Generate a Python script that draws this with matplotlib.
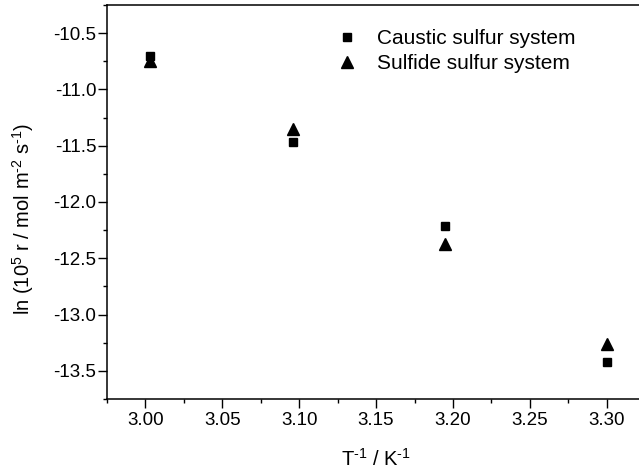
import matplotlib
matplotlib.use("Agg")
import matplotlib.pyplot as plt
from matplotlib.ticker import MultipleLocator, FormatStrFormatter

plt.rcParams['font.family'] = ['Liberation Sans', 'DejaVu Sans']
plt.rcParams['mathtext.fontset'] = 'custom'
plt.rcParams['mathtext.rm'] = 'Liberation Sans'
plt.rcParams['mathtext.it'] = 'Liberation Sans:italic'
plt.rcParams['axes.unicode_minus'] = False

inv_T = [3.0028, 3.0958, 3.195, 3.3005]
caustic = [-10.70, -11.47, -12.21, -13.42]
sulfide = [-10.745, -11.35, -12.37, -13.26]
labels = ["Caustic sulfur system", "Sulfide sulfur system"]

fig = plt.figure(figsize=(6.39, 4.70), dpi=100)
ax = fig.add_axes([107/639, 71/470, 1 - 107/639, (399-5)/470])

ax.plot(inv_T, caustic, ls='none', marker='s', ms=6.2, color='black', label=labels[0])
ax.plot(inv_T, sulfide, ls='none', marker='^', ms=8, color='black', label=labels[1])

ax.set_xlim(2.975, 3.321)
ax.set_ylim(-13.75, -10.25)
ax.xaxis.set_major_locator(MultipleLocator(0.05))
ax.xaxis.set_minor_locator(MultipleLocator(0.025))
ax.yaxis.set_major_locator(MultipleLocator(0.5))
ax.yaxis.set_minor_locator(MultipleLocator(0.25))
ax.xaxis.set_major_formatter(FormatStrFormatter('%.2f'))
ax.yaxis.set_major_formatter(FormatStrFormatter('%.1f'))

ax.spines['right'].set_visible(False)
for s in ['left', 'bottom', 'top']:
    ax.spines[s].set_linewidth(1.1)
ax.tick_params(which='major', direction='out', length=6.2, width=1.0, labelsize=13.5)
ax.tick_params(axis='x', which='major', pad=3)
ax.tick_params(axis='y', which='major', pad=1.5)
ax.tick_params(which='minor', direction='out', length=3.2, width=1.0)
ax.tick_params(top=False, right=False, which='both')

hy = '\u2010'
ax.set_xlabel(r'T$^{\mathregular{' + hy + r'1}}$ / K$^{\mathregular{' + hy + r'1}}$', fontsize=14.5)
ax.set_ylabel(r'ln (10$^{\mathregular{5}}$ r / mol m$^{\mathregular{' + hy + r'2}}$ s$^{\mathregular{' + hy + r'1}}$)',
              fontsize=14.5)
ax.xaxis.set_label_coords(0.506, -0.125)
ax.yaxis.set_label_coords(-0.1335, 0.457)

ax.legend(loc='upper left', bbox_to_anchor=(336.6/639, 1 - 29/470), bbox_transform=fig.transFigure,
          frameon=False, fontsize=15, handlelength=1.0, handletextpad=0.94, borderpad=0,
          borderaxespad=0, labelspacing=0.31)

fig.savefig('out.png', dpi=100)
